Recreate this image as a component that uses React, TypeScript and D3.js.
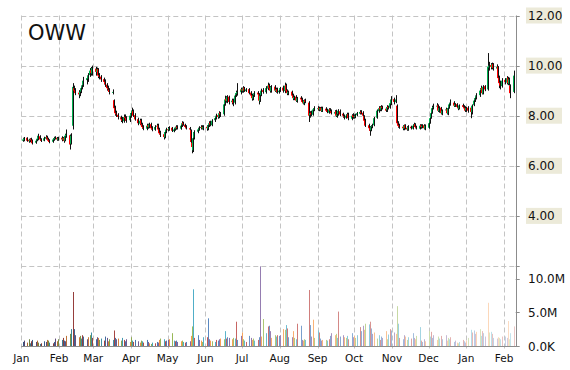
import React from 'react';
import * as d3 from 'd3';

// ---------- data ----------
const symbol = 'OWW';
const firstDay = new Date(2014, 0, 2);
const lastDay = new Date(2015, 1, 9);
const axisStart = new Date(2014, 0, 1);
const axisEnd = new Date(2015, 1, 10, 12);

const priceTicks = [12, 10, 8, 6, 4, 2];
const priceTickLabels = ['12.00', '10.00', '8.00', '6.00', '4.00', ''];
const volumeTicks = [10, 5, 0];
const volumeTickLabels = ['10.0M', '5.0M', '0.0K'];

const opens = [
  7.00, 7.02, 7.12, 7.04, 6.98, 7.08, 7.02, 6.92, 7.01, 7.06, 7.18, 7.06, 7.00, 7.08, 7.16, 7.09, 7.02, 6.96, 7.04, 7.10, 7.12, 7.04,
  7.12, 7.04, 7.12, 7.00, 7.18, 7.22, 6.88, 7.60, 9.10, 9.02, 8.92, 8.84, 8.96, 9.12, 9.22, 9.42, 9.48, 9.62, 9.82, 9.68,
  9.88, 9.74, 9.86, 9.62, 9.56, 9.46, 9.36, 9.24, 9.12, 9.04, 8.92, 8.62, 8.32, 8.12, 8.04, 7.94, 7.86, 7.78, 7.96, 7.92, 7.82,
  7.98, 8.12, 8.18, 8.02, 7.86, 7.68, 7.82, 7.66, 7.56, 7.48, 7.62, 7.54, 7.66, 7.52, 7.44, 7.56, 7.62, 7.46, 7.32, 7.26, 7.14, 7.36,
  7.46, 7.44, 7.52, 7.38, 7.46, 7.48, 7.56, 7.48, 7.62, 7.72, 7.64, 7.56, 7.50, 7.42, 6.92, 6.62, 7.12, 7.36, 7.44, 7.52, 7.56, 7.48,
  7.56, 7.48, 7.62, 7.72, 7.62, 7.82, 7.92, 8.02, 7.94, 8.12, 8.06, 8.46, 8.68, 8.58, 8.76, 8.54, 8.62, 8.52, 8.82, 8.88, 8.94,
  9.06, 8.98, 9.12, 8.98, 9.06, 8.92, 8.82, 8.68, 8.82, 8.92, 8.86, 8.58, 8.82, 9.02, 8.94, 9.08, 9.22, 9.12, 8.98, 9.16, 8.98, 9.06, 8.94,
  9.02, 9.12, 8.98, 9.22, 9.02, 8.88, 8.96, 8.82, 8.68, 8.76, 8.58, 8.72, 8.66, 8.56, 8.48, 8.62, 8.52, 8.02, 8.12, 8.04, 8.24,
  8.28, 8.32, 8.24, 8.32, 8.18, 8.28, 8.22, 8.12, 8.26, 8.18, 8.08, 8.18, 7.98, 8.08, 8.18, 8.08, 7.98, 7.92, 8.02, 8.06, 7.88, 8.02,
  7.98, 7.94, 8.02, 8.08, 8.16, 8.12, 7.98, 7.82, 7.62, 7.52, 7.42, 7.58, 7.62, 7.92, 8.18, 8.32, 8.24, 8.36, 8.28, 8.22, 8.36, 8.32, 8.48,
  8.66, 8.54, 8.40, 7.72, 7.62, 7.56, 7.48, 7.62, 7.52, 7.44, 7.56, 7.48, 7.62, 7.66, 7.56, 7.48, 7.62, 7.54, 7.62, 7.48,
  7.52, 7.72, 7.92, 8.12, 8.32, 8.36, 8.42, 8.18, 8.32, 8.08, 8.22, 8.26, 8.08, 8.32, 8.46, 8.52, 8.38, 8.46, 8.34, 8.28, 8.42, 8.36, 8.32,
  8.22, 8.32, 8.32, 8.14, 8.42, 8.62, 8.72, 8.82, 9.02, 9.12, 8.88, 9.18, 9.05, 9.92, 10.02, 9.92, 10.06, 9.88, 9.96, 9.52, 9.32, 9.18,
  9.42, 9.32, 9.52, 9.28, 9.20, 8.95,
];

const highs = [
  7.12, 7.15, 7.14, 7.08, 7.10, 7.12, 7.05, 7.06, 7.15, 7.28, 7.22, 7.10, 7.16, 7.22, 7.20, 7.12, 7.06, 7.10, 7.16, 7.18, 7.15, 7.16,
  7.18, 7.15, 7.16, 7.28, 7.45, 7.25, 7.30, 9.30, 9.20, 9.10, 9.02, 9.05, 9.20, 9.30, 9.55, 9.60, 9.70, 9.90, 9.95, 10.00,
  9.95, 9.92, 9.90, 9.70, 9.62, 9.52, 9.45, 9.30, 9.20, 9.10, 9.05, 8.65, 8.40, 8.20, 8.10, 8.00, 7.95, 8.05, 8.05, 7.98, 8.10,
  8.20, 8.32, 8.25, 8.10, 7.92, 7.88, 7.88, 7.72, 7.62, 7.68, 7.68, 7.72, 7.72, 7.58, 7.62, 7.68, 7.68, 7.52, 7.40, 7.32, 7.42, 7.52,
  7.55, 7.58, 7.55, 7.52, 7.56, 7.62, 7.62, 7.66, 7.78, 7.76, 7.68, 7.62, 7.55, 7.45, 7.00, 7.15, 7.42, 7.52, 7.58, 7.62, 7.62, 7.62,
  7.62, 7.66, 7.78, 7.80, 7.86, 7.98, 8.08, 8.06, 8.18, 8.15, 8.55, 8.80, 8.78, 8.82, 8.80, 8.68, 8.68, 8.88, 9.00, 9.30, 9.12,
  9.12, 9.18, 9.15, 9.10, 9.10, 8.98, 8.88, 8.88, 8.98, 8.98, 8.90, 8.88, 9.08, 9.10, 9.18, 9.32, 9.28, 9.18, 9.22, 9.22, 9.12, 9.12, 9.08,
  9.15, 9.20, 9.32, 9.28, 9.05, 9.00, 9.00, 8.88, 8.80, 8.82, 8.75, 8.78, 8.72, 8.62, 8.65, 8.68, 8.58, 8.18, 8.20, 8.30, 8.38,
  8.38, 8.36, 8.35, 8.36, 8.36, 8.34, 8.28, 8.30, 8.30, 8.25, 8.22, 8.24, 8.10, 8.26, 8.25, 8.12, 8.05, 8.06, 8.12, 8.12, 8.06, 8.10,
  8.05, 8.08, 8.15, 8.22, 8.22, 8.18, 8.02, 7.88, 7.68, 7.58, 7.62, 7.68, 7.95, 8.25, 8.38, 8.38, 8.42, 8.40, 8.32, 8.42, 8.40, 8.58, 8.78,
  8.72, 8.82, 8.45, 7.78, 7.68, 7.62, 7.65, 7.66, 7.58, 7.62, 7.60, 7.66, 7.72, 7.70, 7.60, 7.66, 7.66, 7.66, 7.66, 7.65,
  7.75, 7.98, 8.18, 8.40, 8.48, 8.50, 8.45, 8.38, 8.35, 8.25, 8.32, 8.30, 8.35, 8.52, 8.65, 8.58, 8.50, 8.50, 8.40, 8.45, 8.48, 8.42, 8.38,
  8.35, 8.38, 8.35, 8.45, 8.68, 8.80, 8.90, 9.10, 9.20, 9.15, 9.22, 9.22, 10.50, 10.15, 10.10, 10.12, 10.10, 10.05, 9.98, 9.60, 9.40, 9.50,
  9.50, 9.58, 9.55, 9.52, 9.25, 9.80,
];

const lows = [
  6.96, 6.98, 6.96, 6.92, 6.94, 6.98, 6.85, 6.88, 6.98, 7.02, 7.00, 6.95, 6.98, 7.05, 7.04, 6.96, 6.90, 6.92, 7.00, 7.05, 7.00, 7.00,
  6.98, 7.00, 6.92, 6.98, 7.12, 6.65, 6.85, 7.45, 8.95, 8.82, 8.70, 8.78, 8.90, 9.05, 9.15, 9.25, 9.35, 9.55, 9.60, 9.60,
  9.60, 9.65, 9.50, 9.45, 9.35, 9.25, 9.15, 9.00, 8.95, 8.85, 8.85, 8.20, 8.00, 7.95, 7.85, 7.75, 7.70, 7.72, 7.80, 7.72, 7.75,
  7.92, 8.02, 7.95, 7.80, 7.62, 7.62, 7.58, 7.48, 7.42, 7.42, 7.48, 7.50, 7.45, 7.38, 7.40, 7.50, 7.40, 7.25, 7.15, 7.05, 7.10, 7.30,
  7.38, 7.40, 7.35, 7.34, 7.40, 7.44, 7.45, 7.44, 7.55, 7.60, 7.50, 7.45, 7.40, 6.88, 6.50, 6.55, 7.05, 7.30, 7.40, 7.45, 7.45, 7.42,
  7.40, 7.42, 7.55, 7.58, 7.58, 7.75, 7.85, 7.88, 7.90, 7.95, 8.00, 8.40, 8.52, 8.50, 8.45, 8.45, 8.38, 8.45, 8.75, 8.80, 8.85,
  8.92, 8.92, 8.95, 8.95, 8.85, 8.72, 8.60, 8.62, 8.75, 8.78, 8.45, 8.55, 8.78, 8.88, 8.88, 9.02, 9.02, 8.92, 8.92, 8.95, 8.92, 8.88, 8.88,
  8.95, 8.92, 8.90, 8.95, 8.82, 8.82, 8.72, 8.62, 8.62, 8.55, 8.52, 8.60, 8.50, 8.45, 8.42, 8.50, 7.75, 7.92, 7.98, 8.00, 8.18,
  8.20, 8.18, 8.20, 8.15, 8.15, 8.15, 8.10, 8.08, 8.15, 8.05, 8.02, 7.95, 7.92, 8.00, 7.98, 7.92, 7.85, 7.88, 7.95, 7.82, 7.82, 7.88,
  7.88, 7.90, 7.98, 8.05, 8.05, 7.95, 7.75, 7.55, 7.40, 7.20, 7.38, 7.50, 7.58, 7.88, 8.12, 8.18, 8.18, 8.25, 8.15, 8.15, 8.25, 8.28, 8.42,
  8.45, 8.50, 7.62, 7.52, 7.48, 7.42, 7.42, 7.45, 7.40, 7.40, 7.45, 7.45, 7.55, 7.50, 7.45, 7.45, 7.48, 7.50, 7.45, 7.42,
  7.48, 7.68, 7.88, 8.08, 8.25, 8.30, 8.15, 8.12, 8.05, 8.02, 8.15, 8.05, 8.02, 8.28, 8.40, 8.35, 8.35, 8.30, 8.22, 8.25, 8.30, 8.25, 8.15,
  8.15, 8.12, 7.90, 8.05, 8.38, 8.55, 8.65, 8.75, 8.95, 8.85, 8.85, 8.98, 9.00, 9.80, 9.85, 9.85, 9.80, 9.85, 9.40, 9.10, 9.05, 9.12,
  9.25, 9.25, 9.22, 9.20, 8.70, 8.90,
];

const closes = [
  7.05, 7.10, 7.00, 6.98, 7.05, 7.02, 6.90, 7.00, 7.08, 7.20, 7.05, 7.00, 7.10, 7.15, 7.08, 7.00, 6.95, 7.05, 7.10, 7.12, 7.05, 7.10,
  7.05, 7.10, 7.00, 7.20, 7.25, 6.85, 7.20, 9.15, 9.00, 8.90, 8.85, 8.95, 9.10, 9.20, 9.40, 9.50, 9.60, 9.80, 9.70, 9.90,
  9.75, 9.85, 9.60, 9.55, 9.45, 9.35, 9.25, 9.10, 9.05, 8.95, 8.95, 8.30, 8.10, 8.05, 7.95, 7.85, 7.80, 7.95, 7.90, 7.80, 8.00,
  8.10, 8.20, 8.00, 7.85, 7.70, 7.80, 7.65, 7.55, 7.50, 7.60, 7.55, 7.65, 7.50, 7.45, 7.55, 7.60, 7.45, 7.30, 7.25, 7.15, 7.35, 7.45,
  7.45, 7.50, 7.40, 7.45, 7.50, 7.55, 7.50, 7.60, 7.70, 7.65, 7.55, 7.50, 7.45, 6.95, 6.75, 7.10, 7.35, 7.45, 7.50, 7.55, 7.50, 7.55,
  7.50, 7.60, 7.70, 7.65, 7.80, 7.90, 8.00, 7.95, 8.10, 8.05, 8.45, 8.65, 8.60, 8.75, 8.55, 8.60, 8.50, 8.80, 8.90, 8.95, 9.05,
  9.00, 9.10, 9.00, 9.05, 8.90, 8.80, 8.70, 8.80, 8.90, 8.85, 8.60, 8.80, 9.00, 8.95, 9.10, 9.20, 9.10, 9.00, 9.15, 9.00, 9.05, 8.95, 9.00,
  9.10, 9.00, 9.20, 9.00, 8.90, 8.95, 8.80, 8.70, 8.75, 8.60, 8.70, 8.65, 8.55, 8.50, 8.60, 8.55, 8.00, 8.10, 8.05, 8.25, 8.30,
  8.30, 8.25, 8.30, 8.20, 8.30, 8.20, 8.15, 8.25, 8.20, 8.10, 8.15, 8.00, 8.05, 8.20, 8.05, 8.00, 7.95, 8.00, 8.05, 7.90, 8.00, 7.95,
  7.95, 8.00, 8.10, 8.15, 8.10, 8.00, 7.80, 7.60, 7.50, 7.40, 7.55, 7.60, 7.90, 8.20, 8.30, 8.25, 8.35, 8.30, 8.20, 8.35, 8.30, 8.50, 8.65,
  8.55, 8.65, 7.70, 7.60, 7.55, 7.50, 7.60, 7.50, 7.45, 7.55, 7.50, 7.60, 7.65, 7.55, 7.50, 7.60, 7.55, 7.60, 7.50, 7.60,
  7.70, 7.90, 8.10, 8.30, 8.35, 8.40, 8.20, 8.30, 8.10, 8.20, 8.25, 8.10, 8.30, 8.45, 8.50, 8.40, 8.45, 8.35, 8.30, 8.40, 8.35, 8.30, 8.20,
  8.30, 8.20, 8.15, 8.40, 8.60, 8.70, 8.80, 9.00, 9.10, 8.90, 9.15, 9.05, 9.95, 10.00, 9.95, 10.05, 9.90, 9.95, 9.50, 9.30, 9.20, 9.40,
  9.35, 9.50, 9.30, 9.45, 8.90, 9.60,
];

// volume in millions
const volumes = [
  0.6, 0.8, 0.5, 1.0, 0.4, 0.7, 0.9, 0.6, 0.8, 0.5, 0.3, 0.4, 0.7, 0.6, 0.9, 0.8, 0.5, 0.4, 0.6, 1.1, 0.7, 1.0,
  0.9, 1.2, 0.8, 0.7, 1.5, 1.8, 2.5, 8.0, 2.5, 1.6, 1.3, 1.5, 1.1, 1.6, 1.4, 1.0, 1.3, 1.6, 2.0, 1.2,
  1.0, 1.3, 1.2, 0.9, 1.1, 0.8, 1.4, 1.2, 0.7, 1.0, 0.9, 2.3, 1.2, 1.0, 1.1, 0.8, 1.2, 0.9, 0.7, 1.0, 0.6,
  1.3, 0.8, 0.6, 0.9, 0.7, 0.5, 0.8, 0.7, 0.5, 0.9, 0.6, 0.4, 0.3, 0.5, 0.4, 0.6, 0.5, 0.9, 1.1, 1.0, 0.7, 0.8,
  0.9, 1.0, 1.9, 0.8, 0.7, 0.8, 0.6, 0.7, 0.8, 0.6, 0.5, 0.6, 0.7, 1.5, 2.9, 8.4, 1.2, 1.6, 0.9, 0.8, 0.6, 1.3,
  1.3, 4.1, 1.0, 0.8, 0.7, 0.6, 0.9, 0.8, 1.0, 1.1, 1.0, 2.2, 1.1, 1.3, 1.2, 1.0, 1.2, 1.1, 3.6, 0.9, 1.5,
  2.0, 1.0, 0.8, 0.6, 1.5, 1.2, 0.9, 1.1, 0.8, 0.9, 1.3, 11.8, 1.4, 4.0, 1.9, 2.9, 3.0, 2.2, 1.2, 1.6, 1.4, 1.6, 1.5,
  1.6, 2.5, 2.4, 3.1, 2.6, 1.3, 1.3, 2.2, 1.2, 1.0, 3.3, 3.0, 0.9, 0.8, 1.0, 0.9, 8.3, 3.1, 1.4, 3.9, 1.2,
  2.3, 2.0, 1.1, 0.8, 0.9, 0.9, 0.8, 1.0, 1.5, 1.9, 1.6, 1.8, 1.2, 5.1, 1.4, 1.6, 1.3, 1.2, 1.5, 1.0, 1.9, 1.3,
  1.5, 1.2, 1.6, 2.8, 2.2, 3.0, 2.4, 3.3, 3.2, 3.6, 2.6, 1.8, 2.0, 1.1, 1.6, 0.9, 1.4, 1.2, 2.2, 1.0, 1.7, 2.5, 2.3,
  2.0, 1.8, 5.9, 3.3, 1.2, 1.0, 1.6, 1.4, 0.9, 1.3, 1.1, 1.9, 1.2, 1.0, 1.5, 2.8, 0.8, 0.6, 1.0, 0.7,
  2.2, 1.4, 2.1, 1.2, 1.6, 0.9, 1.4, 1.1, 1.5, 1.0, 1.6, 0.8, 1.2, 1.0, 1.3, 0.6, 0.8, 0.5, 0.4, 0.6, 0.9, 0.7, 0.5,
  0.8, 1.2, 2.4, 2.0, 2.3, 1.8, 2.1, 2.5, 1.5, 2.2, 1.9, 1.4, 6.4, 2.0, 2.1, 1.8, 1.2, 1.1, 1.3, 1.2, 1.0, 1.4,
  1.4, 1.2, 3.7, 1.0, 1.9, 2.9,
];

// ---------- styling ----------
const W = 570;
const H = 370;
const plotLeft = 21.3;
const plotRight = 515.7;
const plotTop = 15.5;
const plotBottom = 346;
const gridColor = '#c4c4c4';
const axisColor = '#8c8c8c';
const upColor = '#00b050';
const downColor = '#ff0000';
const labelBg = '#ecead9';
const font = '"DejaVu Sans", Verdana, sans-serif';
const volumeHues = ['#4f81bd', '#8064a2', '#f79646', '#9bbb59', '#4bacc6', '#c0504d'];

function volumeColor(i: number, n: number): string {
  const t = i / (n - 1);
  const s = -0.32 + t * 1.0;
  const base = volumeHues[i % volumeHues.length];
  return s < 0 ? d3.interpolateRgb(base, '#000')(-s) : d3.interpolateRgb(base, '#fff')(Math.min(s, 0.7));
}

export default function App() {
  const days = d3.timeDay
    .range(firstDay, d3.timeDay.offset(lastDay, 1))
    .filter((d) => d.getDay() !== 0 && d.getDay() !== 6);
  const n = Math.min(days.length, opens.length, highs.length, lows.length, closes.length, volumes.length);

  const x = d3.scaleTime().domain([axisStart, axisEnd]).range([plotLeft, plotRight]);
  const yP = d3.scaleLinear().domain([2, 12]).range([266, plotTop]);
  const yV = d3.scaleLinear().domain([0, 10]).range([plotBottom, 278.5]);

  const months = d3.timeMonth.range(axisStart, axisEnd);
  const fmt = d3.timeFormat('%b');

  const candles = [];
  const bars = [];
  for (let i = 0; i < n; i++) {
    const cx = Math.round(x(days[i]));
    const o = opens[i], c = closes[i];
    const hi = Math.max(highs[i], o, c), lo = Math.min(lows[i], o, c);
    const up = c >= o;
    const top = yP(Math.max(o, c));
    const bh = Math.max(1, Math.abs(yP(o) - yP(c)));
    candles.push(
      <g key={'c' + i}>
        <rect x={cx - 1} y={top} width={1.4} height={bh} fill={up ? upColor : downColor} />
        <rect x={cx} y={yP(hi)} width={1} height={Math.max(1, yP(lo) - yP(hi))} fill="#111" />
      </g>
    );
    const vy = yV(volumes[i]);
    bars.push(
      <rect key={'v' + i} x={cx} y={vy} width={1} height={plotBottom - vy} fill={volumeColor(i, n)} />
    );
  }

  const crisp = (v: number) => Math.round(v) + 0.5;

  return (
    <svg width={W} height={H} style={{ position: 'absolute', left: 0, top: 0, background: '#fff' }} fontFamily={font}>
      <rect x={0} y={0} width={W} height={H} fill="#fff" />
      {priceTicks.map((p) => (
        <line key={'hg' + p} x1={plotLeft} x2={plotRight} y1={crisp(yP(p))} y2={crisp(yP(p))}
          stroke={gridColor} strokeDasharray="5,3" />
      ))}
      {months.map((m) => (
        <line key={'vg' + m.getTime()} x1={crisp(x(m))} x2={crisp(x(m))} y1={plotTop} y2={350}
          stroke={gridColor} strokeDasharray="5,3" />
      ))}
      {bars}
      {candles}
      <line x1={plotLeft} x2={plotRight + 0.5} y1={crisp(plotBottom)} y2={crisp(plotBottom)} stroke={axisColor} />
      <line x1={crisp(plotRight)} x2={crisp(plotRight)} y1={plotTop} y2={plotBottom + 0.5} stroke={axisColor} />
      {priceTicks.map((p, k) => (
        <g key={'pt' + p}>
          <line x1={plotRight} x2={plotRight + 4} y1={crisp(yP(p))} y2={crisp(yP(p))} stroke={axisColor} />
          {priceTickLabels[k] ? (
            <g>
              <rect x={526} y={yP(p) - 8} width={36} height={16} fill={labelBg} />
              <text x={528} y={yP(p) + 4.5} fontSize={12} fill="#111">{priceTickLabels[k]}</text>
            </g>
          ) : null}
        </g>
      ))}
      {volumeTicks.map((v, k) => (
        <g key={'vt' + v}>
          <line x1={plotRight} x2={plotRight + 4} y1={crisp(yV(v))} y2={crisp(yV(v))} stroke={axisColor} />
          <text x={528} y={yV(v) + 4.5} fontSize={12} fill="#111">{volumeTickLabels[k]}</text>
        </g>
      ))}
      {months.map((m) => (
        <text key={'ml' + m.getTime()} x={x(m)} y={362} fontSize={10.5} textAnchor="middle" fill="#111">{fmt(m)}</text>
      ))}
      <text x={28} y={40} fontSize={21} fill="#111">{symbol}</text>
    </svg>
  );
}
